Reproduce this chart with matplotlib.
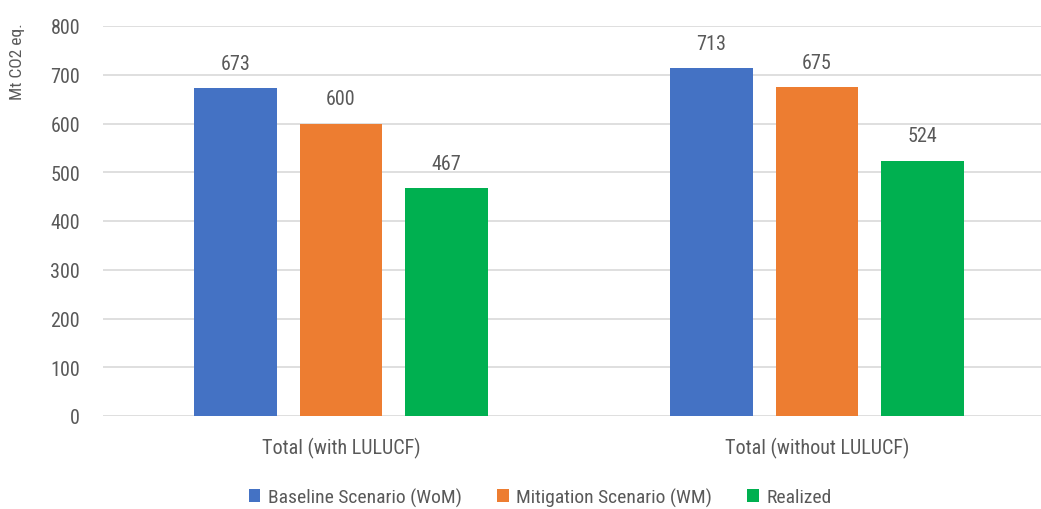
import numpy as np
import matplotlib
matplotlib.use("Agg")
import matplotlib.pyplot as plt
from matplotlib import font_manager

# data
categories = ["Total (with LULUCF)", "Total (without LULUCF)"]
series_names = ["Baseline Scenario (WoM)", "Mitigation Scenario (WM)", "Realized"]
baseline = [673, 713]
mitigation = [600, 675]
realized = [467, 524]
colors = ["#4472C4", "#ED7D31", "#00B050"]

# narrow font if one is installed
fams = {f.name for f in font_manager.fontManager.ttflist}
font = "DejaVu Sans"
for cand in ["Liberation Sans Narrow", "Roboto Condensed", "Open Sans Condensed"]:
    if cand in fams:
        font = cand
        break
plt.rcParams["font.family"] = [font, "DejaVu Sans"]
plt.rcParams["font.stretch"] = "condensed"
txt = "#595959"

fig = plt.figure(figsize=(10.41, 5.10), dpi=100)
ax = fig.add_axes([103 / 1041, 1 - 417 / 510, 1 - 103 / 1041, (417 - 27) / 510])

x = np.arange(len(categories))
offset = 0.2216
width = 0.174
for i, (vals, name) in enumerate(zip([baseline, mitigation, realized], series_names)):
    bars = ax.bar(x + (i - 1) * offset, vals, width, color=colors[i], label=name, zorder=3)
    for b, v in zip(bars, vals):
        ax.annotate(str(v), (b.get_x() + b.get_width() / 2, v), xytext=(0, 11),
                    textcoords="offset points", ha="center", va="bottom",
                    fontsize=14.5, color=txt)

ax.set_xlim(-0.5, 1.4706)
ax.set_ylim(0, 800)
ax.set_yticks(range(0, 801, 100))
ax.set_xticks(x)
ax.set_xticklabels(categories)
ax.grid(axis="y", color="#D9D9D9", linewidth=1.2, zorder=0)
for s in ax.spines.values():
    s.set_visible(False)
ax.tick_params(length=0, labelsize=14.5, colors=txt)
ax.tick_params(axis="y", pad=16.5)
ax.tick_params(axis="x", pad=15)

fig.text(18 / 1041, 1 - 62 / 510, "Mt CO2 eq.", rotation=90, ha="center", va="center",
         fontsize=12.5, color=txt)

fig.legend(loc="center", bbox_to_anchor=(0.519, 1 - 498 / 510), ncol=3, frameon=False,
           fontsize=14, labelcolor=txt, handlelength=0.6, handleheight=0.6,
           handletextpad=0.4, columnspacing=1.8)

fig.savefig("out.png", dpi=100)
